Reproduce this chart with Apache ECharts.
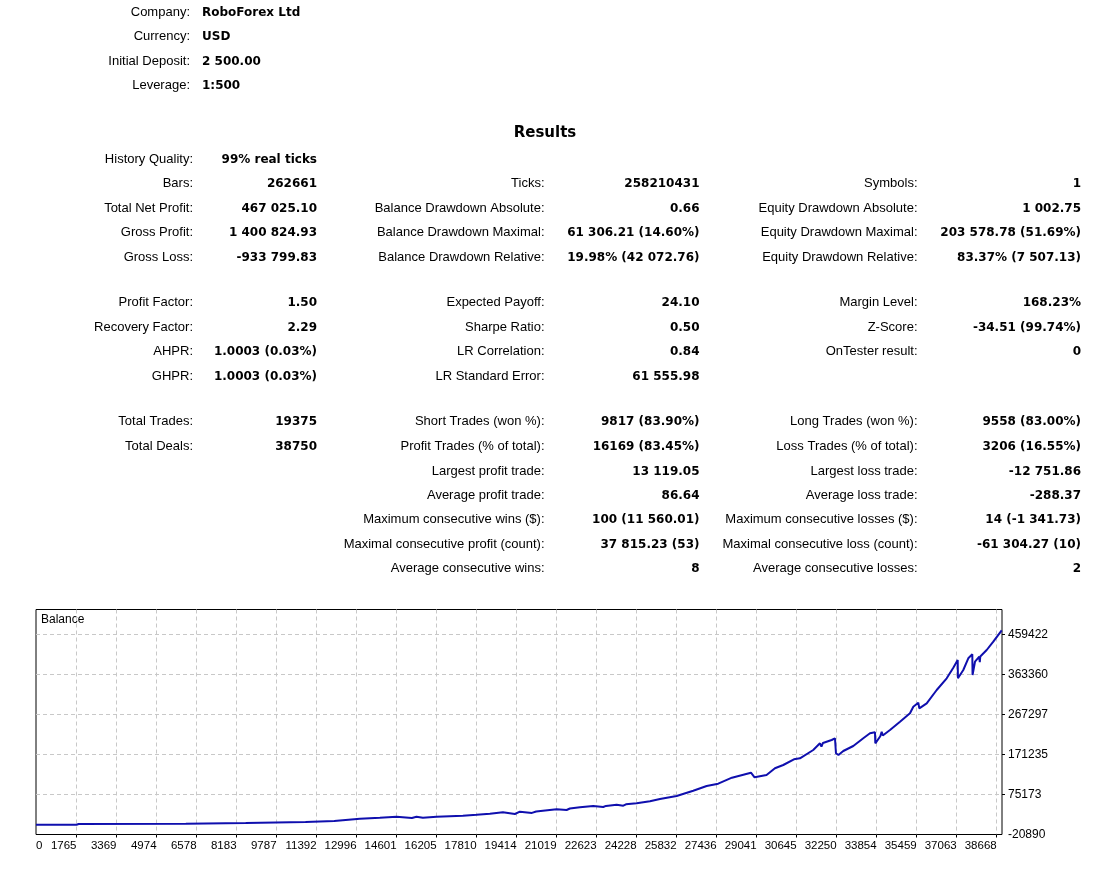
<!DOCTYPE html>
<html>
<head>
<meta charset="utf-8">
<title>Strategy Tester Report</title>
<script src="https://cdn.jsdelivr.net/npm/echarts@6/dist/echarts.min.js"></script>
<style>
  html, body { margin: 0; padding: 0; background: #fff; }
  #report { width: 1113px; height: 873px; }
</style>
</head>
<body>
<div id="report"></div>
<script>
// Account summary (top block)
const summaryLabels = ['Company:', 'Currency:', 'Initial Deposit:', 'Leverage:'];
const summaryValues = ['RoboForex Ltd', 'USD', '2 500.00', '1:500'];

// Results table, three label/value column pairs, one entry per row
const col1Labels = ['History Quality:', 'Bars:', 'Total Net Profit:', 'Gross Profit:', 'Gross Loss:',
  'Profit Factor:', 'Recovery Factor:', 'AHPR:', 'GHPR:', 'Total Trades:', 'Total Deals:', '', '', '', '', ''];
const col1Values = ['99% real ticks', '262661', '467 025.10', '1 400 824.93', '-933 799.83',
  '1.50', '2.29', '1.0003 (0.03%)', '1.0003 (0.03%)', '19375', '38750', '', '', '', '', ''];
const col2Labels = ['', 'Ticks:', 'Balance Drawdown Absolute:', 'Balance Drawdown Maximal:', 'Balance Drawdown Relative:',
  'Expected Payoff:', 'Sharpe Ratio:', 'LR Correlation:', 'LR Standard Error:', 'Short Trades (won %):',
  'Profit Trades (% of total):', 'Largest profit trade:', 'Average profit trade:', 'Maximum consecutive wins ($):',
  'Maximal consecutive profit (count):', 'Average consecutive wins:'];
const col2Values = ['', '258210431', '0.66', '61 306.21 (14.60%)', '19.98% (42 072.76)',
  '24.10', '0.50', '0.84', '61 555.98', '9817 (83.90%)',
  '16169 (83.45%)', '13 119.05', '86.64', '100 (11 560.01)',
  '37 815.23 (53)', '8'];
const col3Labels = ['', 'Symbols:', 'Equity Drawdown Absolute:', 'Equity Drawdown Maximal:', 'Equity Drawdown Relative:',
  'Margin Level:', 'Z-Score:', 'OnTester result:', '', 'Long Trades (won %):',
  'Loss Trades (% of total):', 'Largest loss trade:', 'Average loss trade:', 'Maximum consecutive losses ($):',
  'Maximal consecutive loss (count):', 'Average consecutive losses:'];
const col3Values = ['', '1', '1 002.75', '203 578.78 (51.69%)', '83.37% (7 507.13)',
  '168.23%', '-34.51 (99.74%)', '0', '', '9558 (83.00%)',
  '3206 (16.55%)', '-12 751.86', '-288.37', '14 (-1 341.73)',
  '-61 304.27 (10)', '2'];

// Balance curve: deal number vs balance
const balanceX = [140, 1765, 1800, 1850, 6150, 6200, 8550, 8620, 10950, 11030, 12100, 12150,
  13129, 13931, 14601, 15215, 15400, 15656, 16205, 17260, 17810, 18343, 18865, 19346, 19547,
  20028, 20200, 20469, 21019, 21420, 21550, 21954, 22487, 22888, 23000, 23426, 23693, 23800,
  24228, 24762, 25163, 25832, 26498, 27036, 27501, 28050, 28813, 28957, 29438, 29775, 30108,
  30537, 30778, 31311, 31580, 31640, 31700, 32049, 32182, 32222, 32322, 32516, 32917, 33318,
  33586, 33787, 33800, 34000, 34056, 34100, 34389, 34790, 35191, 35324, 35524, 35564, 35861,
  36262, 36663, 36928, 37104, 37114, 37329, 37529, 37690, 37700, 37798, 37970, 37990, 38010,
  38267, 38532, 38869];
const balanceY = [2500, 2600, 5000, 4400, 5200, 6800, 6900, 9100, 9300, 11500, 11700, 14600,
  17000, 19400, 21800, 18700, 21800, 19500, 21850, 24250, 26650, 29050, 32400, 28300, 33870,
  31000, 34500, 36270, 39630, 37900, 41500, 44430, 47550, 45200, 47800, 50680, 48300, 51500,
  54040, 58840, 64370, 71570, 84300, 95590, 101110, 115520, 127530, 116480, 122000, 138090, 146020,
  159710, 162110, 182040, 198130, 190000, 199000, 206060, 210140, 174120, 170030, 179640, 191650, 210140,
  222150, 224550, 198130, 215000, 226000, 217000, 230070, 250010, 270180, 286030, 295640, 282190, 294200,
  326140, 354230, 379690, 398180, 354230, 374170, 402270, 411870, 362160, 394100, 406110, 393000, 406500,
  422200, 442130, 469525];

// Axis ticks as printed on the chart
const xTickValues = [1765, 3369, 4974, 6578, 8183, 9787, 11392, 12996, 14601, 16205, 17810, 19414,
  21019, 22623, 24228, 25832, 27436, 29041, 30645, 32250, 33854, 35459, 37063, 38668];
const xLabelValues = [140].concat(xTickValues);
const xTickLabels = ['0', '1765', '3369', '4974', '6578', '8183', '9787', '11392', '12996', '14601', '16205',
  '17810', '19414', '21019', '22623', '24228', '25832', '27436', '29041', '30645', '32250', '33854', '35459',
  '37063', '38668'];
const yTickValues = [75173, 171235, 267297, 363360, 459422];
const yLabelValues = [-20890].concat(yTickValues);

const xMin = 140, xMax = 38881;
const yMin = -20890, yMax = 519461;

// ---- layout ----
const labelFont = '13px "Liberation Sans", Arial, sans-serif';
const valueFont = 'bold 12px "DejaVu Sans", Verdana, sans-serif';
const summaryRowY = [12, 36, 61, 85];
const resultRowY = [159, 183.5, 208, 232.5, 257, 302.5, 327, 351.5, 376, 421.5, 446.5, 471, 495.5, 519.5, 544.5, 568.5];
const valueShift = 0.5;

function txt(x, y, text, font, align) {
    return {
        type: 'text', x: x, y: y, silent: true,
        style: { text: text, font: font, fill: '#000', align: align, verticalAlign: 'middle' }
    };
}

const elements = [];
summaryLabels.forEach((l, i) => {
    elements.push(txt(190, summaryRowY[i], l, labelFont, 'right'));
    elements.push(txt(202, summaryRowY[i] + valueShift, summaryValues[i], valueFont, 'left'));
});
elements.push(txt(545, 133, 'Results', 'bold 15px "DejaVu Sans", Verdana, sans-serif', 'center'));

const columns = [
    { labels: col1Labels, values: col1Values, labelRight: 193, valueRight: 317 },
    { labels: col2Labels, values: col2Values, labelRight: 544.5, valueRight: 699.5 },
    { labels: col3Labels, values: col3Values, labelRight: 917.5, valueRight: 1081 }
];
columns.forEach(col => {
    resultRowY.forEach((y, i) => {
        if (col.labels[i]) elements.push(txt(col.labelRight, y, col.labels[i], labelFont, 'right'));
        if (col.values[i]) elements.push(txt(col.valueRight, y + valueShift, col.values[i], valueFont, 'right'));
    });
});
elements.push(txt(41, 620, 'Balance', '12px "Liberation Sans", Arial, sans-serif', 'left'));

const chart = echarts.init(document.getElementById('report'), null, { renderer: 'canvas' });

const gridLine = { show: true, lineStyle: { color: '#c8c8c8', type: [4, 3], width: 1 } };

chart.setOption({
    animation: false,
    backgroundColor: '#fff',
    grid: {
        left: 36, right: 111, top: 609.5, bottom: 38.5,
        show: true, borderColor: '#000', borderWidth: 1, containLabel: false
    },
    xAxis: {
        type: 'value', min: xMin, max: xMax,
        axisLine: { show: false, onZero: false },
        axisTick: { show: true, length: 3, customValues: xTickValues, lineStyle: { color: '#000' } },
        splitLine: gridLine,
        axisLabel: {
            customValues: xLabelValues,
            align: 'right',
            alignMinLabel: 'left',
            margin: 5,
            color: '#000',
            fontSize: 11.5,
            fontFamily: '"Liberation Sans", Arial, sans-serif',
            hideOverlap: false,
            formatter: function (v) {
                let best = 0;
                xLabelValues.forEach((t, i) => { if (Math.abs(t - v) < Math.abs(xLabelValues[best] - v)) best = i; });
                return xTickLabels[best];
            }
        }
    },
    yAxis: {
        type: 'value', position: 'right', min: yMin, max: yMax,
        axisLine: { show: false, onZero: false },
        axisTick: { show: true, length: 3, customValues: yTickValues, lineStyle: { color: '#000' } },
        splitLine: gridLine,
        axisLabel: {
            customValues: yLabelValues,
            margin: 6,
            color: '#000',
            fontSize: 12,
            fontFamily: '"Liberation Sans", Arial, sans-serif',
            formatter: v => String(Math.round(v))
        }
    },
    series: [{
        type: 'line',
        data: balanceX.map((x, i) => [x, balanceY[i]]),
        showSymbol: false,
        symbol: 'none',
        lineStyle: { color: '#0f0fae', width: 2 },
        clip: true
    }],
    graphic: { elements: elements }
});
</script>
</body>
</html>
